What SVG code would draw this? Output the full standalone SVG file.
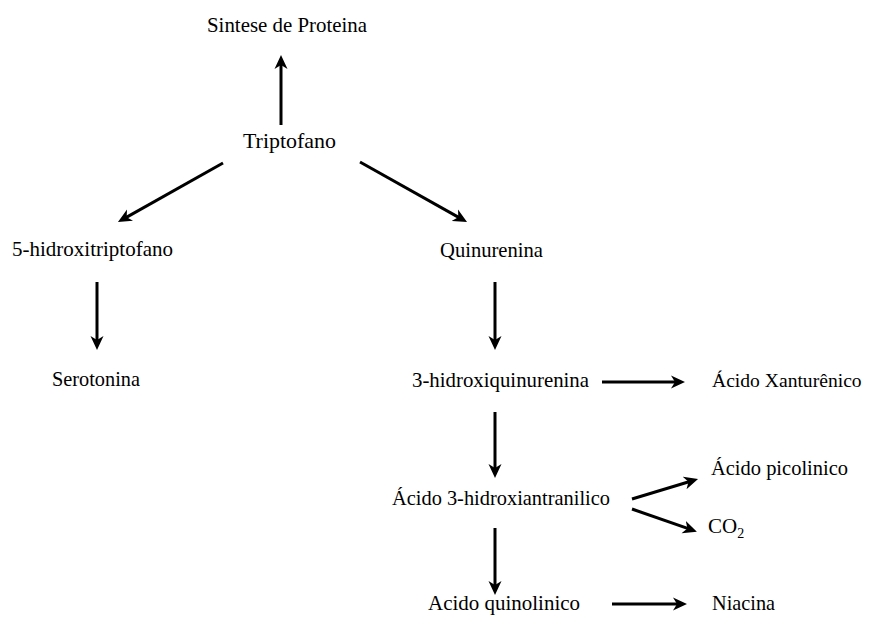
<svg xmlns="http://www.w3.org/2000/svg" width="869" height="626" viewBox="0 0 869 626">
<style>
.t{font-family:"Liberation Serif","Times New Roman",serif;font-size:21px;fill:#000}
.c line{stroke:#000;stroke-width:3;fill:none;marker-end:url(#ah)}
</style>
<defs>
<marker id="ah" viewBox="0 0 14 14" refX="8" refY="7" markerWidth="14" markerHeight="14" orient="auto" markerUnits="userSpaceOnUse">
<path d="M0,0.5 L14,7 L0,13.5 L4,7 z" fill="#000"/>
</marker>
</defs>
<rect width="869" height="626" fill="#fff"/>
<g id="connectors" class="c">
<line x1="281" y1="125" x2="281" y2="61"/>
<line x1="223" y1="163" x2="123.2" y2="219.1"/>
<line x1="360" y1="162" x2="461.8" y2="219.1"/>
<line x1="97" y1="282" x2="97" y2="344"/>
<line x1="495" y1="282" x2="495" y2="344"/>
<line x1="602" y1="382" x2="679" y2="382"/>
<line x1="495" y1="412" x2="495" y2="472"/>
<line x1="632" y1="499" x2="692.3" y2="480.7"/>
<line x1="632" y1="509" x2="691.2" y2="529.7"/>
<line x1="495" y1="528" x2="495" y2="589"/>
<line x1="612" y1="604" x2="681" y2="604"/>
</g>
<g id="sintese"><text class="t" x="207" y="32" textLength="160" lengthAdjust="spacingAndGlyphs">Sintese de Proteina</text></g>
<g id="triptofano"><text class="t" x="243" y="148" textLength="93" lengthAdjust="spacingAndGlyphs">Triptofano</text></g>
<g id="hidroxitriptofano"><text class="t" x="12" y="256" textLength="161" lengthAdjust="spacingAndGlyphs">5-hidroxitriptofano</text></g>
<g id="serotonina"><text class="t" x="52" y="386" textLength="88" lengthAdjust="spacingAndGlyphs">Serotonina</text></g>
<g id="quinurenina"><text class="t" x="440" y="257" textLength="103" lengthAdjust="spacingAndGlyphs">Quinurenina</text></g>
<g id="hidroxiquinurenina"><text class="t" x="412" y="387" textLength="177" lengthAdjust="spacingAndGlyphs">3-hidroxiquinurenina</text></g>
<g id="xanturenico"><text class="t" x="712" y="387" style="font-size:19.6px">Ácido Xanturênico</text></g>
<g id="hidroxiantranilico"><text class="t" x="392" y="505" textLength="218" lengthAdjust="spacingAndGlyphs">Ácido 3-hidroxiantranilico</text></g>
<g id="picolinico"><text class="t" x="711" y="475" textLength="137" lengthAdjust="spacingAndGlyphs">Ácido picolinico</text></g>
<g id="co2"><text class="t" x="708" y="533">CO<tspan font-size="14" dy="5">2</tspan></text></g>
<g id="quinolinico"><text class="t" x="428" y="610" textLength="152" lengthAdjust="spacingAndGlyphs">Acido quinolinico</text></g>
<g id="niacina"><text class="t" x="712" y="610" textLength="63" lengthAdjust="spacingAndGlyphs">Niacina</text></g>
</svg>
